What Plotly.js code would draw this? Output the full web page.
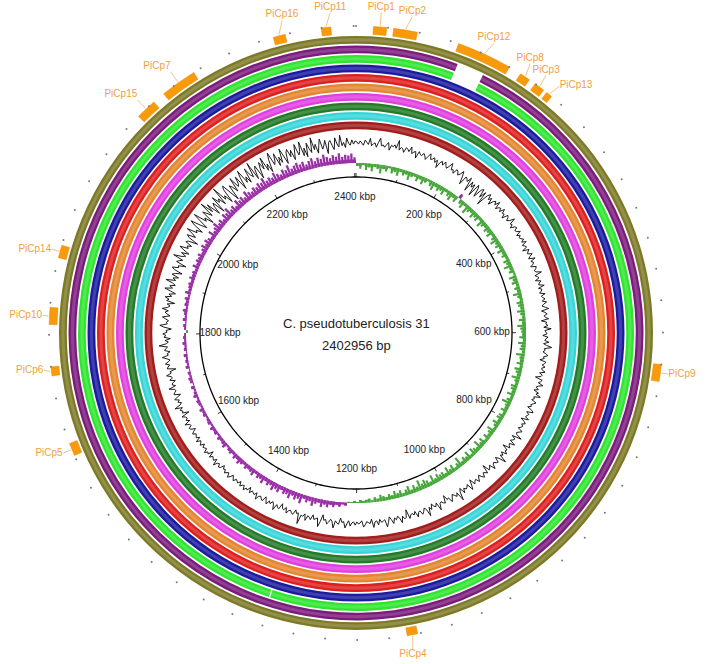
<!DOCTYPE html>
<html><head><meta charset="utf-8">
<script src="https://cdn.plot.ly/plotly-3.0.1.min.js"></script>
<style>html,body{margin:0;padding:0;background:#fff}#chart{width:708px;height:664px}</style>
</head><body><div id="chart"></div>
<script>
// ---------------- DATA ----------------
const genomeLengthBp = 2402956;
const genomeTitle = "C. pseudotuberculosis 31";

// BLAST rings, outermost first
const ringNames = ["Genome 1","Genome 2","Genome 3","Genome 4","Genome 5","Genome 6","Genome 7","Genome 8","Genome 9","Genome 10"];
const ringColors = ["#7d7a27","#7b1c7d","#2ee62e","#1b1ba0","#de1f1f","#e48630","#e23fe0","#237a27","#36d5d8","#a31c1c"];
// regions without hits (kbp) for each ring
const ringGapStartKbp = [[],[138.2],[137.5,1321.6],[],[],[],[],[],[],[]];
const ringGapEndKbp   = [[],[174.9],[174.9,1323.4],[],[],[],[],[],[],[]];

// genomic islands
const islandNames = ["PiCp1","PiCp2","PiCp3","PiCp4","PiCp5","PiCp6","PiCp7","PiCp8","PiCp9","PiCp10","PiCp11","PiCp12","PiCp13","PiCp14","PiCp15","PiCp16"];
const islandStartKbp = [21.7,47.1,238.3,1124.1,1645.4,1748.5,2144.0,216.3,640.1,1812.9,2359.6,130.2,256.3,1897.0,2101.9,2298.5];
const islandEndKbp   = [38.4,77.1,251.6,1137.4,1661.4,1759.9,2190.0,229.6,661.5,1834.3,2371.6,200.2,264.3,1913.1,2128.0,2313.9];

// scale labels (kbp)
const tickKbp = [200,400,600,800,1000,1200,1400,1600,1800,2000,2200,2400];

// GC content deviation (two windows per degree, starting at 0 bp)
const gcContent = [
 1,-1,2,0,-2,3,1,-1,5,-2,0,1,-3,2,6,-1,0,-2,1,3,-4,1,0,2,-1,7,-2,1,0,-3,2,1,-1,4,-2,0,1,-5,2,0,
 -1,2,0,-3,1,4,-1,0,2,-2,1,-6,0,2,-1,3,0,-2,1,5,-1,0,-3,2,1,-2,0,4,-1,-8,1,0,-2,3,-10,1,-4,0,-11,2,
 -1,-9,0,2,-6,1,-12,0,3,-2,1,-5,0,2,-1,4,-3,0,1,-2,3,-1,0,-4,2,1,-2,0,5,-1,0,-3,1,2,-1,0,3,-2,1,-1,
 0,2,-1,3,-2,0,1,-4,2,0,-1,3,0,-2,4,-1,1,0,-3,2,1,-1,0,5,-2,0,1,-3,2,0,-1,4,-2,1,0,-2,3,-1,0,2,
 -1,3,0,-2,1,4,-3,0,2,-1,0,3,-4,1,0,2,-2,5,-1,0,1,-3,2,0,-1,3,-2,1,6,-1,0,-2,1,3,-1,0,-4,2,1,-1,
 2,-1,0,3,-2,1,0,-5,2,1,-1,4,0,-2,1,-3,2,0,5,-1,0,-2,3,1,-1,0,-3,2,4,-2,1,0,-1,3,-4,0,2,-1,1,0,
 -2,3,1,-1,0,6,-3,1,0,-2,4,-1,0,2,-5,1,0,3,-2,1,-1,7,0,-3,2,1,-1,0,4,-2,0,1,-6,2,0,-1,3,1,-2,0,
 3,-1,0,2,-4,1,5,-2,0,1,-1,3,-3,0,8,-1,2,0,-2,1,4,-1,0,-5,2,1,-1,0,6,-2,1,0,-3,2,-1,7,0,-2,1,3,
 -1,0,4,-2,1,-1,0,3,-6,1,2,-1,5,0,-2,1,-1,4,0,-3,2,6,-1,0,1,-2,3,-1,0,5,-3,1,0,-1,2,4,-2,0,1,-1,
 2,-1,0,3,-2,1,5,-1,0,-4,2,1,-1,6,0,-2,1,3,-1,0,-5,2,7,-1,0,1,-3,2,0,-1,4,-2,1,0,9,-1,0,-3,2,1,
 -1,0,3,-2,1,0,-4,2,1,-1,5,0,-2,1,-1,3,0,-3,2,1,-1,0,4,-2,1,0,-1,2,-3,1,0,3,-1,0,2,-2,1,0,-1,2,
 0,-2,1,3,-1,0,2,-1,0,-3,1,2,-1,0,4,-2,1,0,-1,2,-4,1,0,3,-1,0,1,-2,2,0,-1,3,-2,1,0,-1,2,0,-3,1,
 2,-1,0,4,-2,1,-1,0,3,-5,1,0,2,-1,6,0,-2,1,-1,3,0,-4,2,1,-1,0,5,-2,1,0,-3,2,-1,0,4,-1,0,-6,2,1,
 -1,3,0,-2,1,5,-1,0,-3,2,1,-1,7,0,-2,1,-4,2,0,3,-1,0,-5,2,6,-1,0,-2,1,4,-3,0,2,-1,5,0,-2,1,-6,2,
 0,4,-2,1,-5,0,6,-1,2,-3,0,7,-2,1,-4,3,0,-6,2,5,-1,0,-7,3,1,-2,8,0,-3,2,-5,1,6,-2,0,-4,3,1,-8,2,
 5,-3,1,8,-2,0,-6,4,9,-1,-7,2,10,-3,0,-9,5,1,-4,11,-2,6,-8,0,3,-10,7,-1,2,-6,12,-3,0,-9,5,8,-2,-11,4,1,
 -5,9,-2,0,7,-8,3,10,-4,1,-6,8,0,-3,11,-7,2,5,-9,0,6,-2,9,-5,1,-8,4,10,-3,0,7,-6,2,-4,9,1,-7,3,6,-2,
 4,-6,1,8,-3,0,9,-5,2,-7,6,0,-4,10,-2,3,-6,1,7,-3,0,5,-8,2,4,-1,-5,6,0,-3,8,-2,1,-4,5,0,-2,3,-1,2
];
// GC skew (one window per degree): positive = skew+, negative = skew-
const gcSkew = [
 3,6,2,7,4,8,3,5,9,4,6,2,7,5,8,3,6,4,9,5,3,7,4,8,5,2,6,9,4,7,
 5,8,3,6,9,4,7,-5,5,8,3,10,6,4,8,5,7,3,9,6,4,7,5,8,3,6,9,5,7,4,
 8,4,6,3,7,5,9,4,6,2,8,5,7,3,6,4,9,5,3,7,6,4,8,5,3,7,4,9,6,5,
 4,7,3,8,5,6,3,9,5,4,7,3,8,6,4,9,5,3,7,6,4,8,3,6,10,5,4,7,3,6,
 7,4,8,5,3,9,6,4,7,3,8,5,10,4,6,8,3,9,5,7,4,11,6,3,8,5,9,4,7,6,
 8,5,10,4,7,9,6,11,5,8,4,9,6,3,7,5,8,4,6,3,5,7,3,5,2,4,3,2,3,1,
 2,1,1,-3,-2,-5,-3,-6,-4,-7,-5,-8,-4,-6,-9,-5,-7,-4,-10,-6,-8,-5,-9,-6,-7,-4,-8,-6,-9,-5,
 -7,-4,-8,-5,-6,-3,-7,-5,-4,-6,-3,-5,-7,-4,-6,-3,-5,-4,-2,-6,-4,-3,-5,-2,-4,-3,-5,-2,-4,-3,
 -2,-4,-3,-5,-2,-3,-4,-2,-5,-3,-2,-4,-1,-3,-4,-2,-3,-1,-4,-2,-3,-2,-4,-1,-3,-2,-4,-2,-3,-2,
 2,-2,-3,-1,-4,-2,-3,-5,-2,-4,-3,-5,-2,-6,-3,-4,-5,-3,-6,-4,-5,-3,-7,-4,-6,-5,-7,-4,-6,-8,
 -5,-8,-6,-4,-9,-5,-7,-10,-6,-8,-5,-9,-7,-11,-6,-8,-5,-10,-7,-9,-6,-11,-8,-6,-9,-7,-10,-8,-12,-7,
 -9,-7,-11,-8,-6,-10,-8,-12,-7,-9,-11,-8,-10,-6,-9,-11,-7,-10,-8,-12,-9,-7,-10,-8,-11,-7,-9,-8,-10,-6
];

// ---------------- LAYOUT CONSTANTS (pixels) ----------------
const polarPx = 331;
const L = genomeLengthBp / 1000;                   // kbp
const ang = k => k / L * 360;
const ringOuter0 = 297, ringStep = 9.5, ringThick = 7.8;
const innerCircleR = 156, tickLabelR = 136;
const gcBase = 190, gcScale = 1.05;
const skewBase = 170, skewScale = 0.95, skewSolid = 3.5;
const islandBase = 299, islandThick = 8;
const dotR = 307;
const labelOffset = {PiCp16: 1.2, PiCp11: 1.0, PiCp2: 0.8, PiCp12: 0.7, PiCp8: -0.5, PiCp3: -0.3, PiCp13: 0.5, PiCp4: 0.4, PiCp6: 0.4};
const labelFont = "Liberation Sans, Arial, sans-serif";
function labelPosition(t) {
  if (t < 38 || t >= 340) return 'top center';
  if (t < 150) return 'middle right';
  if (t < 210) return 'bottom center';
  if (t < 300) return 'middle left';
  return 'top left';
}

const traces = [];

// rings
ringColors.forEach((col, i) => {
  const gs = ringGapStartKbp[i], ge = ringGapEndKbp[i];
  const segs = [];
  let cur = 0;
  gs.forEach((s, j) => { segs.push([cur, s]); cur = ge[j]; });
  segs.push([cur, L]);
  const th = segs.map(s => ang((s[0] + s[1]) / 2));
  const w = segs.map(s => ang(s[1] - s[0]));
  const outer = ringOuter0 - i * ringStep;
  traces.push({type:'barpolar', name: ringNames[i], theta: th, width: w,
    base: segs.map(() => outer - ringThick), r: segs.map(() => ringThick),
    marker:{color: col, line:{width:0}}, hoverinfo:'skip', showlegend:false});
  traces.push({type:'barpolar', theta: th, width: w,
    base: segs.map(() => outer - ringThick/2 - 1.6), r: segs.map(() => 3.2),
    marker:{color:'rgba(255,255,255,0.16)', line:{width:0}}, hoverinfo:'skip', showlegend:false});
});

// islands
const islTheta = islandNames.map((n, i) => ang((islandStartKbp[i] + islandEndKbp[i]) / 2));
traces.push({type:'barpolar', theta: islTheta,
  width: islandNames.map((n, i) => ang(islandEndKbp[i] - islandStartKbp[i])),
  base: islandNames.map(() => islandBase), r: islandNames.map(() => islandThick),
  marker:{color:'#f99a0a', line:{color:'#e88a00', width:0.5}}, hoverinfo:'skip', showlegend:false});

// outer dots every 40 kbp
const dotTh = [];
for (let k = 0; k <= L; k += 40) dotTh.push(ang(k));
traces.push({type:'scatterpolar', mode:'markers', theta: dotTh, r: dotTh.map(() => dotR),
  marker:{size:2, color:'#777'}, hoverinfo:'skip', showlegend:false});

// GC content line
const gcStep = 360 / gcContent.length;
const gcTh = gcContent.map((v, i) => (i + 0.5) * gcStep);
gcTh.push(gcTh[0] + 360);
const gcR = gcContent.map(v => gcBase + v * gcScale);
gcR.push(gcR[0]);
traces.push({type:'scatterpolar', mode:'lines', theta: gcTh, r: gcR,
  line:{color:'#111', width:0.95}, hoverinfo:'skip', showlegend:false});

// GC skew: solid base + spikes
const skStep = 360 / gcSkew.length;
function skewTraces(sel, color, inward) {
  const th = [], b1 = [], r1 = [], b2 = [], r2 = [];
  gcSkew.forEach((v, i) => {
    if (!sel(v)) return;
    const t = (i + 0.5) * skStep, h = Math.abs(v) * skewScale, hs = Math.min(h, skewSolid);
    th.push(t);
    if (inward) { b1.push(skewBase - h); r1.push(h); b2.push(skewBase - hs); r2.push(hs); }
    else { b1.push(skewBase); r1.push(h); b2.push(skewBase); r2.push(hs); }
  });
  traces.push({type:'barpolar', theta: th, base: b1, r: r1, width: th.map(() => skStep * 0.75),
    marker:{color: color, line:{width:0}}, hoverinfo:'skip', showlegend:false});
  traces.push({type:'barpolar', theta: th, base: b2, r: r2, width: th.map(() => skStep),
    marker:{color: color, line:{width:0}}, hoverinfo:'skip', showlegend:false});
}
skewTraces(v => v >= 0, '#46a83a', true);
skewTraces(v => v < 0, '#9a30a6', false);

// inner scale circle
const circTh = [], circR = [];
for (let a = 0; a <= 360; a += 1) { circTh.push(a); circR.push(innerCircleR); }
traces.push({type:'scatterpolar', mode:'lines', theta: circTh, r: circR,
  line:{color:'#000', width:1.3}, hoverinfo:'skip', showlegend:false});
// ticks
const tkTh = [], tkR = [];
for (let k = 0; k <= L; k += 100) {
  const t = ang(k); const len = (k % 200 === 0) ? 4 : 2.5;
  tkTh.push(t, t, null); tkR.push(innerCircleR, innerCircleR + len, null);
}
traces.push({type:'scatterpolar', mode:'lines', theta: tkTh, r: tkR, connectgaps:false,
  line:{color:'#000', width:0.8}, hoverinfo:'skip', showlegend:false});
// tick labels
traces.push({type:'scatterpolar', mode:'text', theta: tickKbp.map(ang), r: tickKbp.map(() => tickLabelR),
  text: tickKbp.map(k => k + ' kbp'), textposition:'middle center',
  textfont:{family: labelFont, size: 10, color:'#222'}, hoverinfo:'skip', showlegend:false});

// island labels + leader lines
const lblTh = [], lblR = [], lblPos = [], ldTh = [], ldR = [];
islandNames.forEach((n, i) => {
  const t = (islTheta[i] + (labelOffset[n] || 0) + 360) % 360;
  const rad = t * Math.PI / 180;
  const ra = 314 + 8 * Math.abs(Math.cos(rad));
  lblTh.push(t); lblR.push(ra); lblPos.push(labelPosition(t));
  ldTh.push(islTheta[i], t, null); ldR.push(islandBase + islandThick + 1, ra - 0.5, null);
});
traces.push({type:'scatterpolar', mode:'lines', theta: ldTh, r: ldR, cliponaxis:false,
  line:{color:'#e9a860', width:0.7}, hoverinfo:'skip', showlegend:false});
traces.push({type:'scatterpolar', mode:'text', theta: lblTh, r: lblR, cliponaxis:false,
  text: islandNames, textposition: lblPos,
  textfont:{family: labelFont, size: 10, color:'#f2a03a'}, hoverinfo:'skip', showlegend:false});

const layout = {
  width:708, height:664, margin:{l:0, r:0, t:0, b:0},
  paper_bgcolor:'#fff', showlegend:false,
  polar:{
    domain:{x:[25/708, 687/708], y:[0, 662/664]},
    bgcolor:'rgba(0,0,0,0)', barmode:'overlay', hole:0,
    radialaxis:{visible:false, range:[0, polarPx]},
    angularaxis:{visible:false, direction:'clockwise', rotation:90}
  },
  annotations:[
    {xref:'paper', yref:'paper', x:356/708, y:1-323/664, text: genomeTitle, showarrow:false,
     font:{family: labelFont, size:13, color:'#222'}},
    {xref:'paper', yref:'paper', x:356/708, y:1-345/664, text: genomeLengthBp + ' bp', showarrow:false,
     font:{family: labelFont, size:13, color:'#222'}}
  ]
};
Plotly.newPlot('chart', traces, layout, {staticPlot:true, displayModeBar:false});
</script></body></html>
